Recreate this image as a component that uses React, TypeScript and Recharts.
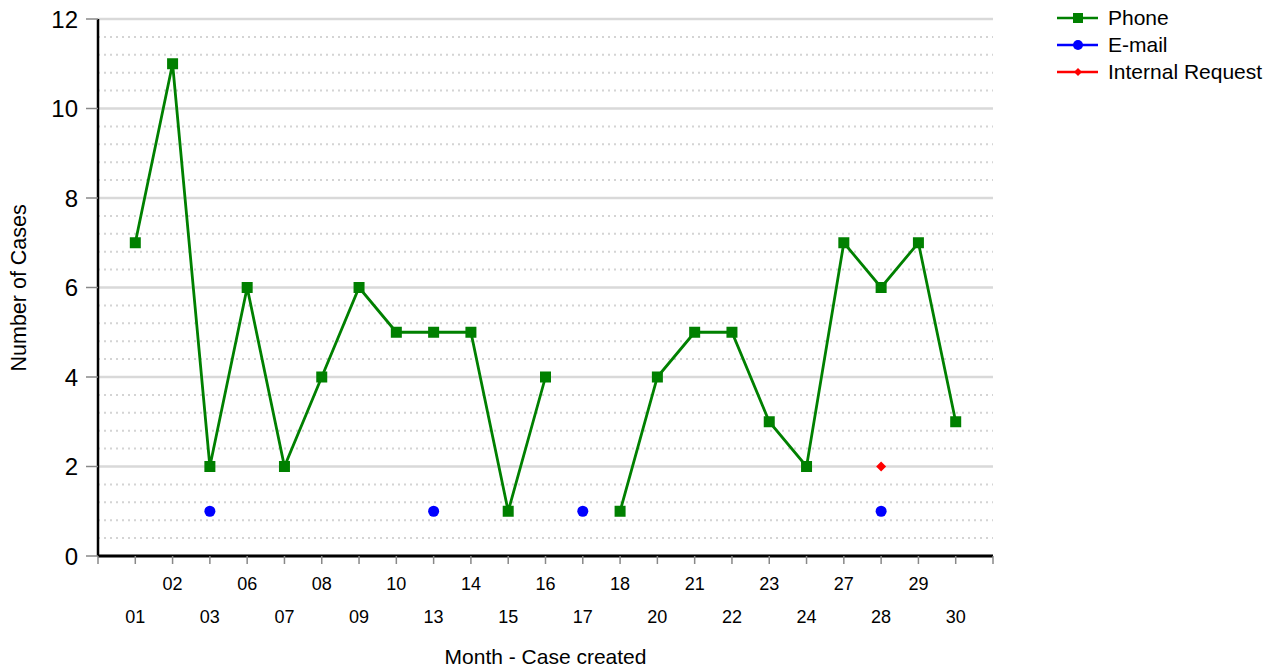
import React from 'react';
import { LineChart, Line, XAxis, YAxis, ReferenceLine, Legend } from 'recharts';

// day of month on which the case was created
const days = ['01', '02', '03', '06', '07', '08', '09', '10', '13', '14', '15', '16', '17', '18', '20', '21', '22', '23', '24', '27', '28', '29', '30'];
const phone = [7, 11, 2, 6, 2, 4, 6, 5, 5, 5, 1, 4, null, 1, 4, 5, 5, 3, 2, 7, 6, 7, 3];
const email = [null, null, 1, null, null, null, null, null, 1, null, null, null, 1, null, null, null, null, null, null, null, 1, null, null];
const internal = [null, null, null, null, null, null, null, null, null, null, null, null, null, null, null, null, null, null, null, null, 2, null, null];

const yMajor = [0, 2, 4, 6, 8, 10, 12];
const yMinor = yMajor.slice(0, -1).flatMap((v) => [0.4, 0.8, 1.2, 1.6].map((d) => v + d));

const data = days.map((d, i) => ({
  idx: i + 1,
  day: d,
  phone: phone[i],
  email: email[i],
  internal: internal[i],
}));

const xTicks = Array.from({ length: days.length + 2 }, (_, i) => i);

const FONT = '"Liberation Sans", Arial, sans-serif';
const GREEN = '#008000';
const BLUE = '#0000ff';
const RED = '#ff0000';

const SquareDot = (props: any) => {
  const { cx, cy, value } = props;
  if (value == null || cx == null || cy == null) return null;
  return <rect x={cx - 5.5} y={cy - 5.5} width={11} height={11} fill={GREEN} />;
};

const CircleDot = (props: any) => {
  const { cx, cy, value } = props;
  if (value == null || cx == null || cy == null) return null;
  return <circle cx={cx} cy={cy} r={5.5} fill={BLUE} />;
};

const DiamondDot = (props: any) => {
  const { cx, cy, value } = props;
  if (value == null || cx == null || cy == null) return null;
  return <path d={`M${cx},${cy - 5}L${cx + 5},${cy}L${cx},${cy + 5}L${cx - 5},${cy}Z`} fill={RED} />;
};

const DayTick = (props: any) => {
  const { x, y, payload } = props;
  const i = payload.value;
  if (i < 1 || i > days.length) return null;
  const dy = i % 2 === 1 ? 59 : 26;
  return (
    <text x={x} y={y + dy} textAnchor="middle" fontSize={18} fontFamily={FONT} fill="#000">
      {days[i - 1]}
    </text>
  );
};

const legendItems = [
  { name: 'Phone', color: GREEN, marker: 'square' },
  { name: 'E-mail', color: BLUE, marker: 'circle' },
  { name: 'Internal Request', color: RED, marker: 'diamond' },
];

const LegendBox = () => (
  <svg width={225} height={90}>
    {legendItems.map((it, i) => {
      const y = 18 + i * 27;
      return (
        <g key={it.name}>
          <line x1={7} x2={48} y1={y} y2={y} stroke={it.color} strokeWidth={2.5} />
          {it.marker === 'square' && <rect x={23} y={y - 5} width={10} height={10} fill={it.color} />}
          {it.marker === 'circle' && <circle cx={28} cy={y} r={5} fill={it.color} />}
          {it.marker === 'diamond' && (
            <path d={`M28,${y - 4}L32,${y}L28,${y + 4}L24,${y}Z`} fill={it.color} />
          )}
          <text x={58} y={y + 7} fontSize={21} fontFamily={FONT} fill="#000">
            {it.name}
          </text>
        </g>
      );
    })}
  </svg>
);

export default function App() {
  return (
    <div style={{ position: 'absolute', left: 0, top: 0, width: 1275, height: 672, background: '#fff' }}>
      <LineChart width={1275} height={672} data={data} margin={{ top: 19, right: 282, bottom: 36, left: 38 }}>
        {yMinor.map((v) => (
          <ReferenceLine key={`mn${v}`} y={v} stroke="#d4d4d4" strokeWidth={2} strokeDasharray="2 4" ifOverflow="extendDomain" />
        ))}
        {yMajor.map((v) => (
          <ReferenceLine key={`mj${v}`} y={v} stroke="#d9d9d9" strokeWidth={2.5} />
        ))}
        <XAxis
          dataKey="idx"
          type="number"
          domain={[0, days.length + 1]}
          ticks={xTicks}
          interval={0}
          height={80}
          tickSize={8}
          tickMargin={0}
          tick={<DayTick />}
          axisLine={{ stroke: '#000', strokeWidth: 3 }}
          tickLine={{ stroke: '#888', strokeWidth: 1.5 }}
          label={{ value: 'Month - Case created', position: 'insideBottom', offset: -28, fontSize: 21, fontFamily: FONT, fill: '#000' }}
        />
        <YAxis
          type="number"
          domain={[0, 12]}
          ticks={yMajor}
          interval={0}
          width={60}
          tickSize={12}
          tickMargin={8}
          tick={{ fontSize: 24, fontFamily: FONT, fill: '#000' }}
          axisLine={{ stroke: '#000', strokeWidth: 2.5 }}
          tickLine={{ stroke: '#888', strokeWidth: 1.5 }}
          label={{ value: 'Number of Cases', angle: -90, position: 'insideLeft', offset: -20, dy: 84, fontSize: 21.5, fontFamily: FONT, fill: '#000' }}
        />
        <Legend
          layout="vertical"
          align="center"
          verticalAlign="middle"
          wrapperStyle={{ top: 0, left: 1050, width: 225 }}
          content={<LegendBox />}
        />
        <Line dataKey="phone" stroke={GREEN} strokeWidth={2.8} dot={<SquareDot />} activeDot={false} connectNulls={false} isAnimationActive={false} />
        <Line dataKey="email" stroke={BLUE} strokeWidth={2.8} dot={<CircleDot />} activeDot={false} connectNulls={false} isAnimationActive={false} />
        <Line dataKey="internal" stroke={RED} strokeWidth={2.8} dot={<DiamondDot />} activeDot={false} connectNulls={false} isAnimationActive={false} />
      </LineChart>
    </div>
  );
}
